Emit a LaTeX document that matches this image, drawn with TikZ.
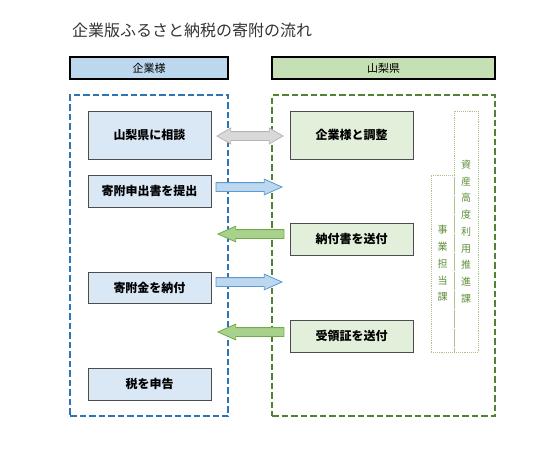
\documentclass[tikz,border=0pt]{standalone}
\usepackage{fontspec}
\setmainfont{Noto Sans CJK JP}
\usetikzlibrary{shapes.arrows}
\definecolor{lbfill}{HTML}{DAE7F4}
\definecolor{lgfill}{HTML}{E2EFDA}
\definecolor{hbfill}{HTML}{BDD7EE}
\definecolor{hgfill}{HTML}{C5E0B4}
\definecolor{dblue}{HTML}{2E75B6}
\definecolor{dgreen}{HTML}{548235}
\definecolor{dotgreen}{HTML}{A9C48F}
\definecolor{vtext}{HTML}{5E8F3A}
\definecolor{boxline}{HTML}{4D4D4D}
\definecolor{agrayf}{HTML}{D9D9D9}
\definecolor{agrayd}{HTML}{B5B5B5}
\definecolor{abluef}{HTML}{BDD7EE}
\definecolor{ablued}{HTML}{5B9BD5}
\definecolor{agreenf}{HTML}{A9D18E}
\definecolor{agreend}{HTML}{70AD47}
\tikzset{
  hdr/.style={draw=black, line width=1.2pt, inner sep=0pt, font=\fontsize{11}{13}\selectfont},
  frame/.style={dashed, dash pattern=on 6.5pt off 3pt, line width=1.3pt, inner sep=0pt},
  lbox/.style={draw=boxline, line width=0.8pt, fill=lbfill, minimum width=123pt, inner sep=0pt, font=\bfseries\fontsize{12}{14}\selectfont},
  rbox/.style={draw=boxline, line width=0.8pt, fill=lgfill, minimum width=123pt, inner sep=0pt, font=\bfseries\fontsize{12}{14}\selectfont},
  dotbox/.style={draw=dotgreen, densely dotted, line width=0.9pt, inner sep=0pt, align=center, text=vtext, font=\fontsize{10}{16.75}\selectfont},
  barrow/.style={single arrow, anchor=tip, inner xsep=0pt, inner ysep=4pt, minimum height=66pt, minimum width=15pt, single arrow head extend=3.5pt, single arrow tip angle=48, line width=0.8pt},
  darrow/.style={double arrow, inner xsep=0pt, inner ysep=4pt, minimum height=66pt, minimum width=15pt, double arrow head extend=3.5pt, double arrow tip angle=60, line width=0.8pt, fill=agrayf, draw=agrayd},
  bluearrow/.style={barrow, fill=abluef, draw=ablued},
  greenarrow/.style={barrow, fill=agreenf, draw=agreend, shape border rotate=180}
}
\begin{document}
\begin{tikzpicture}[x=1pt,y=-1pt]
\useasboundingbox (0,0) rectangle (550,450);
\node[anchor=west, text=black!80, font=\fontsize{16}{18}\selectfont, inner sep=0pt] (title) at (72,30) {企業版ふるさと納税の寄附の流れ};
\node[hdr, fill=hbfill, minimum width=158pt, minimum height=22pt] (hl) at (149,68) {企業様};
\node[hdr, fill=hgfill, minimum width=223pt, minimum height=22pt] (hr) at (383.5,68) {山梨県};
\node[frame, draw=dblue, minimum width=158pt, minimum height=321pt] (fl) at (149,255.5) {};
\node[frame, draw=dgreen, minimum width=223pt, minimum height=321pt] (fr) at (383.5,255.5) {};
\node[lbox, minimum height=48pt] (a1) at (149.5,135) {山梨県に相談};
\node[lbox, minimum height=32pt] (a2) at (149.5,191) {寄附申出書を提出};
\node[lbox, minimum height=31pt] (a3) at (149.5,287.5) {寄附金を納付};
\node[lbox, minimum height=32pt] (a4) at (149.5,384) {税を申告};
\node[rbox, minimum height=48pt] (b1) at (351.5,135) {企業様と調整};
\node[rbox, minimum height=32pt] (b2) at (351.5,239) {納付書を送付};
\node[rbox, minimum height=32pt] (b3) at (351.5,336) {受領証を送付};
\node[dotbox, minimum width=24pt, minimum height=241pt] (d1) at (466,231.5) {資\\産\\高\\度\\利\\用\\推\\進\\課};
\node[dotbox, minimum width=23pt, minimum height=177pt] (d2) at (442.5,263.5) {事\\業\\担\\当\\課};
\node[darrow] (x1) at (250,136) {};
\node[bluearrow] (x2) at (283,187) {};
\node[greenarrow] (x3) at (217,234) {};
\node[bluearrow] (x4) at (283,282) {};
\node[greenarrow] (x5) at (217,332) {};
\end{tikzpicture}
\end{document}
